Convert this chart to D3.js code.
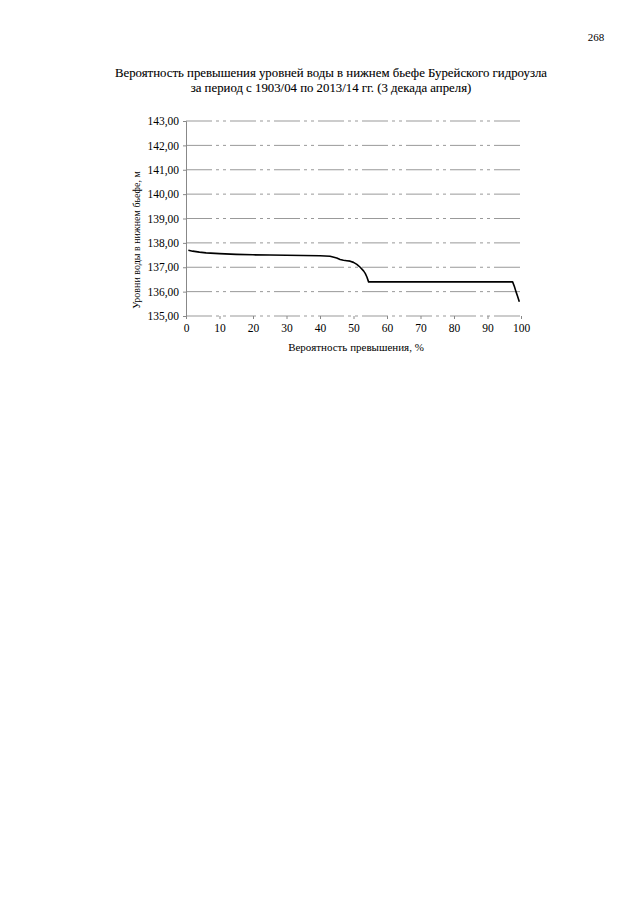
<!DOCTYPE html>
<html><head><meta charset="utf-8">
<script src="https://cdn.jsdelivr.net/npm/d3@7"></script>
<style>body{margin:0;background:#fff}svg{display:block}</style>
</head><body>
<script>
const titleLines = ["Вероятность превышения уровней воды в нижнем бьефе Бурейского гидроузла", "за период с 1903/04 по 2013/14 гг. (3 декада апреля)"];
const yTitle = "Уровни воды в нижнем бьефе, м";
const xTitle = "Вероятность превышения, %";
const pageNumber = "268";
const xTicks = [0,10,20,30,40,50,60,70,80,90,100];
const yTicks = [135,136,137,138,139,140,141,142,143];
const prob  = [0.7, 2, 4, 6, 10, 15, 20, 25, 30, 35, 40, 43, 45, 46, 47, 48, 49, 50, 51, 52, 53, 53.5, 54, 54.5, 60, 70, 80, 90, 97.5, 98, 98.5, 99, 99.5];
const level = [137.70, 137.66, 137.62, 137.59, 137.56, 137.53, 137.51, 137.50, 137.49, 137.48, 137.47, 137.45, 137.38, 137.32, 137.29, 137.27, 137.25, 137.20, 137.12, 137.00, 136.85, 136.75, 136.60, 136.40, 136.40, 136.40, 136.40, 136.40, 136.40, 136.22, 136.00, 135.80, 135.58];

const W=640,H=905;
const svg=d3.select("body").append("svg").attr("width",W).attr("height",H);
const font="Liberation Serif";
const x=d3.scaleLinear().domain([0,100]).range([186,521]);
const y=d3.scaleLinear().domain([135,143]).range([316,121]);

svg.append("text").attr("x",596).attr("y",41).attr("text-anchor","middle").attr("font-family",font).attr("font-size",11).text(pageNumber);
titleLines.forEach((t,i)=>svg.append("text").attr("x",331).attr("y",77+i*15).attr("text-anchor","middle").attr("font-family",font).attr("font-size",12.8).attr("stroke","#000").attr("stroke-width",0.1).text(t));

// gridlines
svg.append("g").selectAll("line").data(yTicks).join("line")
  .attr("x1",x(0)).attr("x2",x(100)).attr("y1",d=>y(d)).attr("y2",d=>y(d))
  .attr("stroke","#999").attr("stroke-width",1).attr("stroke-dasharray","26,4,3,4,3,4");
// y axis
const ya=svg.append("g").attr("transform",`translate(${x(0)},0)`)
  .call(d3.axisLeft(y).tickValues(yTicks).tickSize(3).tickFormat(d=>d3.format(".2f")(d).replace(".",",")));
ya.select(".domain").attr("stroke","#888");
ya.selectAll(".tick line").attr("stroke","#888");
ya.selectAll("text").attr("font-family",font).attr("font-size",11.5).attr("fill","#000").attr("dx",-1);
// x axis
const xa=svg.append("g").attr("transform",`translate(0,${y(135)})`)
  .call(d3.axisBottom(x).tickValues(xTicks).tickSize(3));
xa.select(".domain").remove();
xa.selectAll(".tick line").attr("stroke","#888");
xa.selectAll("text").attr("font-family",font).attr("font-size",11.5).attr("fill","#000").attr("dy","0.9em");

svg.append("text").attr("transform",`translate(140,240) rotate(-90)`).attr("text-anchor","middle")
  .attr("font-family",font).attr("font-size",10).text(yTitle);
svg.append("text").attr("x",356).attr("y",351).attr("text-anchor","middle")
  .attr("font-family",font).attr("font-size",11).text(xTitle);

const line=d3.line().x((d,i)=>x(prob[i])).y(d=>y(d));
svg.append("path").datum(level).attr("d",line).attr("fill","none").attr("stroke","#000").attr("stroke-width",1.6).attr("stroke-linejoin","round");
</script>
</body></html>
